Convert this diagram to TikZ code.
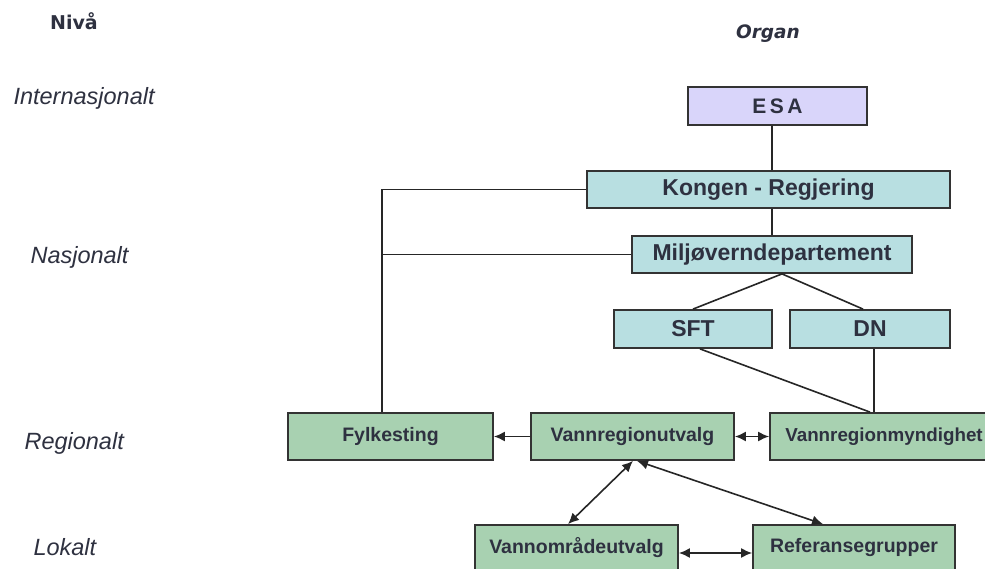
\documentclass[tikz,border=0pt]{standalone}
\usepackage{fontspec}
\setmainfont{Liberation Sans}
\newfontfamily\dejavu{DejaVu Sans}
\usetikzlibrary{arrows.meta}
\definecolor{lav}{HTML}{D9D5FA}
\definecolor{cyanbox}{HTML}{B8DFE1}
\definecolor{greenbox}{HTML}{A8D1B1}
\definecolor{edgec}{HTML}{333333}
\definecolor{textc}{HTML}{2E3140}
\begin{document}
\begin{tikzpicture}[x=1pt,y=-1pt,
  box/.style={draw=edgec,line width=1.8pt,inner sep=0pt,text=textc},
  cbox/.style={box,fill=cyanbox,font=\fontsize{23}{26}\selectfont\bfseries},
  gbox/.style={box,fill=greenbox,font=\fontsize{19.5}{22}\selectfont\bfseries},
  conn/.style={draw=black!85,line width=1.6pt},
  tip/.tip={Latex[length=11pt,width=10pt]},
  arr/.style={conn,-tip},
  darr/.style={conn,tip-tip},
  lvl/.style={anchor=west,font=\fontsize{23.5}{26}\selectfont\itshape,text=textc}]
\useasboundingbox (0,0) rectangle (985,569);
\clip (0,0) rectangle (985,569);
\fill[white] (0,0) rectangle (985,569);

% headings and levels
\node[font=\dejavu\fontsize{19}{22}\selectfont\bfseries,text=textc] (niva) at (74,21) {Nivå};
\node[font=\dejavu\fontsize{18.5}{22}\selectfont\bfseries\itshape,text=textc] (organ) at (768,34) {Organ};
\node[lvl] (int) at (10,98) {Internasjonalt};
\node[lvl] (nas) at (27,257) {Nasjonalt};
\node[lvl] (reg) at (21,443) {Regionalt};
\node[lvl] (lok) at (30,547) {Lokalt};

% boxes
\node[box,fill=lav,font=\fontsize{21}{24}\selectfont\bfseries,minimum width=179pt,minimum height=38pt] (esa) at (777.5,106) {E\,S\,A};
\node[cbox,minimum width=363pt,minimum height=37pt] (kongen) at (768.5,189.5) {Kongen - Regjering};
\node[cbox,minimum width=280pt,minimum height=37pt] (miljo) at (772,254.5) {Miljøverndepartement};
\node[cbox,minimum width=158pt,minimum height=38pt] (sft) at (693,329) {SFT};
\node[cbox,minimum width=160pt,minimum height=38pt] (dn) at (870,329) {DN};
\node[gbox,minimum width=205pt,minimum height=47pt] (fylk) at (390.5,436.5) {Fylkesting};
\node[gbox,minimum width=203pt,minimum height=47pt] (vru) at (632.5,436.5) {Vannregionutvalg};
\node[gbox,minimum width=228pt,minimum height=47pt,font=\fontsize{18.8}{22}\selectfont\bfseries] (vrm) at (884,436.5) {Vannregionmyndighet};
\node[gbox,minimum width=203pt,minimum height=45pt] (vou) at (576.5,547.5) {Vannområdeutvalg};
\node[gbox,minimum width=202pt,minimum height=45pt] (ref) at (854,547.5) {Referansegrupper};

% connectors
\draw[conn] (miljo.north |- esa.south) -- (miljo.north |- kongen.north);
\draw[conn] (miljo.north |- kongen.south) -- (miljo.north);
\coordinate (lx) at ([xshift=-8.5pt]fylk.north);
\draw[conn] (kongen.west) -| (lx);
\draw[conn] (miljo.west) -- (miljo.west -| lx);
\draw[conn] ([xshift=10pt]miljo.south) -- (sft.north);
\draw[conn] ([xshift=10pt]miljo.south) -- ([xshift=-7pt]dn.north);
\draw[conn] ([xshift=7pt]sft.south) -- ([xshift=-14pt]vrm.north);
\draw[conn] ([xshift=4pt]dn.south) -- ([xshift=4pt]dn.south |- vrm.north);
\draw[arr] (vru.west) -- (fylk.east);
\draw[darr] (vru.east) -- (vrm.west);
\draw[darr] ([xshift=0.5pt]vru.south) -- ([xshift=-8.5pt]vou.north);
\draw[darr] ([xshift=4.5pt]vru.south) -- ([xshift=-31pt]ref.north);
\draw[darr] ([yshift=-5.5pt]vou.east) -- ([yshift=-5.5pt]ref.west);
\end{tikzpicture}
\end{document}
